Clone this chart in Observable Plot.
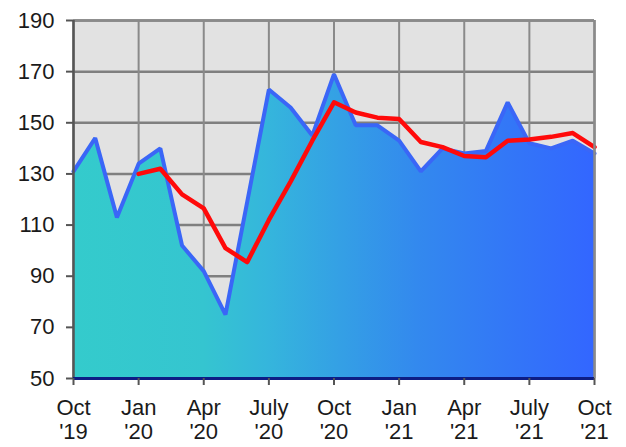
<!DOCTYPE html>
<html>
<head>
<meta charset="utf-8">
<script src="https://cdn.jsdelivr.net/npm/d3@7"></script>
<script src="https://cdn.jsdelivr.net/npm/@observablehq/plot@0.6"></script>
<style>
  html, body { margin: 0; padding: 0; background: #fff; }
  #chart svg { display: block; }
</style>
</head>
<body>
<div id="chart"></div>
<script>
// Monthly index 0 = Oct '19 ... 24 = Oct '21
const monthIndex = d3.range(0, 25);
const seriesValues = [131, 144, 113, 134, 140, 102, 92, 75, 119, 163, 156, 145, 169, 149, 149, 143, 131, 140, 138, 139, 158, 142, 140, 143, 138];
// Red average line starts at Jan '20 (index 3)
const avgStart = 3;
const avgValues = [130, 132, 122, 116.5, 101, 95.5, 112, 127, 143, 158, 154, 152, 151.5, 142.5, 140.5, 137, 136.5, 143, 143.5, 144.5, 146, 140.5];
const tickMonths = ["Oct", "Jan", "Apr", "July", "Oct", "Jan", "Apr", "July", "Oct"];
const tickYears = ["'19", "'20", "'20", "'20", "'20", "'21", "'21", "'21", "'21"];
const yTicks = [50, 70, 90, 110, 130, 150, 170, 190];

const series = monthIndex.map((i) => ({i, v: seriesValues[i]}));
const avg = avgValues.map((v, k) => ({i: avgStart + k, v}));
const xTicks = tickMonths.map((_, k) => k * 3);

const font = "'Liberation Sans', Arial, sans-serif";

const plot = Plot.plot({
  width: 626,
  height: 447,
  marginLeft: 73,
  marginRight: 32,
  marginTop: 20,
  marginBottom: 69,
  style: {fontFamily: font, fontSize: "22px", color: "#1a1a1a", background: "#fff"},
  x: {domain: [0, 24]},
  y: {domain: [50, 190]},
  marks: [
    Plot.frame({fill: "#e2e2e2", stroke: null}),
    Plot.gridY(yTicks, {stroke: "#7f7f7f", strokeOpacity: 1, strokeWidth: 2.5}),
    Plot.gridX(xTicks, {stroke: "#8a8a8a", strokeOpacity: 1, strokeWidth: 2}),
    Plot.areaY(series, {x: "i", y1: 50, y2: "v", fill: "url(#areaGrad)"}),
    Plot.lineY(series, {x: "i", y: "v", stroke: "#3a66f7", strokeWidth: 4, strokeLinejoin: "miter"}),
    Plot.lineY(avg, {x: "i", y: "v", stroke: "#ff0a0a", strokeWidth: 4.5}),
    Plot.ruleY([190], {stroke: "#8a8a8a", strokeWidth: 2.5}),
    Plot.ruleX([24], {stroke: "#8a8a8a", strokeWidth: 2.5}),
    Plot.ruleX([0], {stroke: "#555", strokeWidth: 2.5}),
    Plot.ruleY([50], {stroke: "#0d1d85", strokeWidth: 3}),
    Plot.axisY(yTicks, {tickSize: 7, tickPadding: 12, stroke: "#555", strokeWidth: 2, fontSize: 22, label: null}),
    Plot.axisX(xTicks, {
      tickSize: 7, tickPadding: 12, stroke: "#555", strokeWidth: 2, fontSize: 22, label: null,
      lineHeight: 1.1,
      tickFormat: (d) => tickMonths[d / 3] + "\n" + tickYears[d / 3]
    })
  ]
});

const defs = document.createElementNS("http://www.w3.org/2000/svg", "defs");
defs.innerHTML = `<linearGradient id="areaGrad" x1="0" x2="1" y1="0" y2="0">
  <stop offset="0" stop-color="#34cbcc"/>
  <stop offset="0.25" stop-color="#35c5d0"/>
  <stop offset="0.37" stop-color="#35b6dc"/>
  <stop offset="0.66" stop-color="#3389ee"/>
  <stop offset="1" stop-color="#3366ff"/>
</linearGradient>`;
plot.insertBefore(defs, plot.firstChild);
document.getElementById("chart").appendChild(plot);
</script>
</body>
</html>
